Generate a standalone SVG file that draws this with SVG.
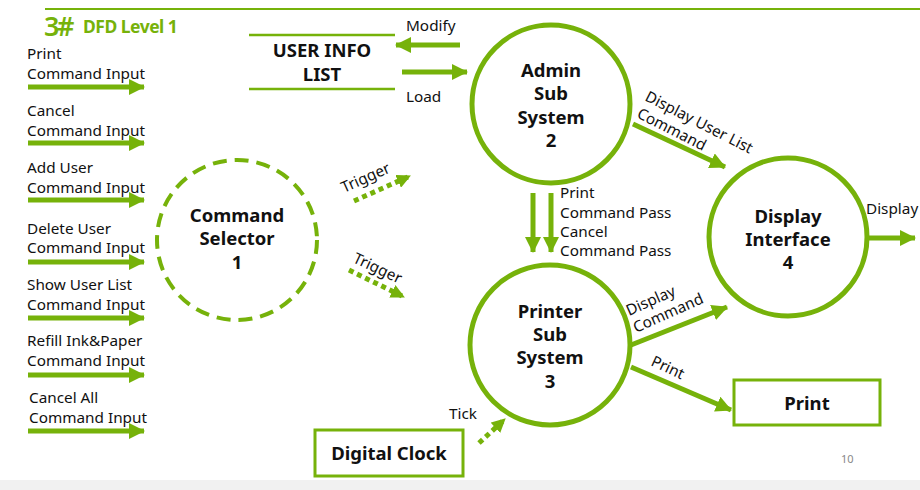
<svg xmlns="http://www.w3.org/2000/svg" width="920" height="490" viewBox="0 0 920 490">
<defs>
<marker id="ah" markerUnits="userSpaceOnUse" markerWidth="16" markerHeight="16" viewBox="0 0 16 16" refX="15" refY="8" orient="auto">
<path d="M0,0 L16,8 L0,16 Z" fill="#76b20a"/>
</marker>
<marker id="ahs" markerUnits="userSpaceOnUse" markerWidth="14" markerHeight="14" viewBox="0 0 14 14" refX="13" refY="7" orient="auto">
<path d="M0,0 L14,7 L0,14 Z" fill="#76b20a"/>
</marker>
</defs>
<style>
.flow{stroke:#76b20a;stroke-width:5;fill:none;marker-end:url(#ah)}
.dot{stroke:#76b20a;stroke-width:5;fill:none;stroke-dasharray:5 4;marker-end:url(#ahs)}
.proc{fill:#fff;stroke:#76b20a;stroke-width:5}
.ext{fill:#fff;stroke:#76b20a;stroke-width:3}
.t{font-family:"Noto Sans","Open Sans","DejaVu Sans",sans-serif;font-size:15.3px;fill:#111}
.b{font-family:"Noto Sans","Open Sans","DejaVu Sans",sans-serif;font-size:18.5px;font-weight:bold;fill:#111;text-anchor:middle}
</style>
<rect x="0" y="480" width="920" height="10" fill="#f1f1f1"/>
<line x1="45" y1="9" x2="920" y2="9" stroke="#76b20a" stroke-width="2"/>
<text x="44" y="36" font-family="'Noto Sans',sans-serif" font-size="27" font-weight="600" fill="#76b20a" letter-spacing="-2.5">3#</text>
<text x="83" y="33" font-family="'Noto Sans',sans-serif" font-size="17.5" font-weight="bold" fill="#76b20a" letter-spacing="-0.5">DFD Level 1</text>

<g id="connectors">
<line class="flow" x1="28" y1="87" x2="144" y2="87"/>
<line class="flow" x1="28" y1="143" x2="144" y2="143"/>
<line class="flow" x1="28" y1="200" x2="144" y2="200"/>
<line class="flow" x1="28" y1="262" x2="144" y2="262"/>
<line class="flow" x1="28" y1="318" x2="144" y2="318"/>
<line class="flow" x1="28" y1="375" x2="144" y2="375"/>
<line class="flow" x1="28" y1="431" x2="144" y2="431"/>
<line class="flow" x1="460" y1="45" x2="396" y2="45"/>
<line class="flow" x1="402" y1="72" x2="467" y2="72"/>
<line class="dot" x1="354" y1="201" x2="410" y2="176"/>
<line class="dot" x1="349" y1="270" x2="404" y2="297"/>
<line class="flow" x1="533" y1="193" x2="533" y2="252"/>
<line class="flow" x1="551" y1="193" x2="551" y2="252"/>
<line class="flow" x1="633" y1="124" x2="725" y2="167"/>
<line class="flow" x1="631" y1="345" x2="727" y2="307"/>
<line class="flow" x1="631" y1="367" x2="731" y2="410"/>
<line class="flow" x1="868" y1="238" x2="915" y2="238"/>
<line class="dot" x1="479" y1="443" x2="505" y2="419"/>
</g>
<g id="labels">
<text class="t" x="27" y="59">Print</text><text class="t" x="27" y="79">Command Input</text>
<text class="t" x="27" y="116">Cancel</text><text class="t" x="27" y="136">Command Input</text>
<text class="t" x="27" y="173">Add User</text><text class="t" x="27" y="193">Command Input</text>
<text class="t" x="27" y="234">Delete User</text><text class="t" x="27" y="253">Command Input</text>
<text class="t" x="27" y="290">Show User List</text><text class="t" x="27" y="310">Command Input</text>
<text class="t" x="27" y="346">Refill Ink&amp;Paper</text><text class="t" x="27" y="366">Command Input</text>
<text class="t" x="29" y="403">Cancel All</text><text class="t" x="29" y="423">Command Input</text>
<text class="t" x="406" y="31">Modify</text>
<text class="t" x="406" y="102">Load</text>
<text class="t" transform="translate(344,193) rotate(-24)">Trigger</text>
<text class="t" transform="translate(352,262) rotate(25)">Trigger</text>
<text class="t" x="560" y="198">Print</text>
<text class="t" x="560" y="218">Command Pass</text>
<text class="t" x="560" y="237">Cancel</text>
<text class="t" x="560" y="256">Command Pass</text>
<text class="t" transform="translate(644,100) rotate(27)">Display User List</text>
<text class="t" transform="translate(636,117) rotate(27)">Command</text>
<text class="t" transform="translate(629,316) rotate(-24)">Display</text>
<text class="t" transform="translate(636,333) rotate(-24)">Command</text>
<text class="t" transform="translate(650,365) rotate(25)">Print</text>
<text class="t" x="866" y="214">Display</text>
<text class="t" x="449" y="419">Tick</text>
<text x="841" y="463" font-family="'Noto Sans',sans-serif" font-size="11" fill="#888">10</text>
</g>

<g id="user-info-list">
<line x1="249" y1="35" x2="395" y2="35" stroke="#76b20a" stroke-width="2.5"/>
<line x1="249" y1="89" x2="395" y2="89" stroke="#76b20a" stroke-width="2.5"/>
<text class="b" x="322" y="57">USER INFO</text>
<text class="b" x="322" y="81">LIST</text>
</g>
<g id="command-selector">
<circle cx="237" cy="240" r="80" fill="#fff" stroke="#76b20a" stroke-width="4" stroke-dasharray="14 8"/>
<text class="b" x="237" y="222">Command</text>
<text class="b" x="237" y="245">Selector</text>
<text class="b" x="237" y="269">1</text>
</g>
<g id="admin-sub-system">
<circle class="proc" cx="551" cy="104" r="79"/>
<text class="b" x="551" y="77">Admin</text>
<text class="b" x="551" y="100">Sub</text>
<text class="b" x="551" y="124">System</text>
<text class="b" x="551" y="147">2</text>
</g>
<g id="printer-sub-system">
<circle class="proc" cx="550" cy="345" r="80"/>
<text class="b" x="550" y="318">Printer</text>
<text class="b" x="550" y="341">Sub</text>
<text class="b" x="550" y="364">System</text>
<text class="b" x="550" y="388">3</text>
</g>
<g id="display-interface">
<circle class="proc" cx="788" cy="237" r="79"/>
<text class="b" x="788" y="223">Display</text>
<text class="b" x="788" y="246">Interface</text>
<text class="b" x="788" y="269">4</text>
</g>
<g id="print">
<rect class="ext" x="734" y="380" width="146" height="45"/>
<text class="b" x="807" y="410">Print</text>
</g>
<g id="digital-clock">
<rect class="ext" x="315" y="430" width="148" height="46"/>
<text class="b" x="389" y="460">Digital Clock</text>
</g>
</svg>
